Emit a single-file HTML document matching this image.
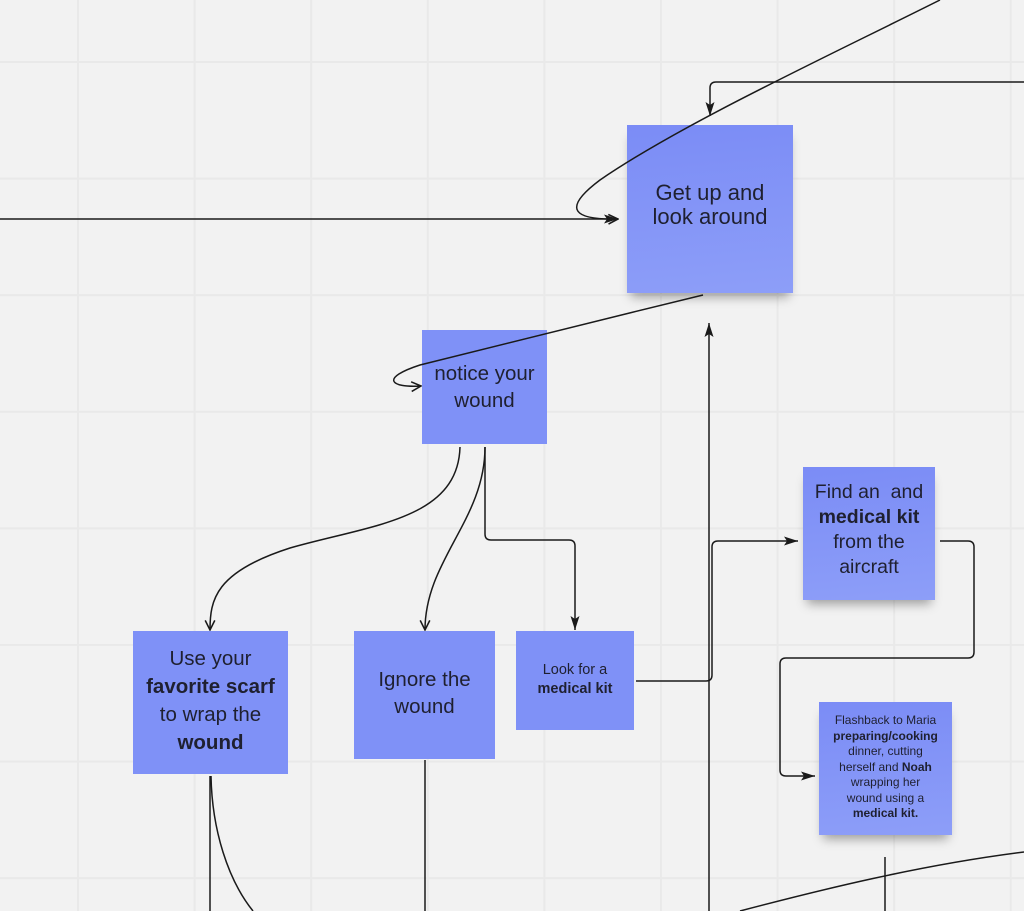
<!DOCTYPE html>
<html><head><meta charset="utf-8"><style>
html,body{margin:0;padding:0}
body{width:1024px;height:911px;overflow:hidden;position:relative;background-color:#f2f2f2;
background-image:linear-gradient(to right,#e9e9e9 0,#e9e9e9 2px,transparent 2px),linear-gradient(to bottom,#e9e9e9 0,#e9e9e9 2px,transparent 2px);
background-size:116.6px 116.6px;background-position:77px 61px;font-family:"Liberation Sans",sans-serif;color:#1f2030}
.n{position:absolute;display:flex;align-items:center;justify-content:center;text-align:center;box-sizing:border-box;background:linear-gradient(175deg,#7b8cf6,#8d9ef8);}
.sh{box-shadow:0 8px 10px -4px rgba(0,0,0,0.35)}
b{font-weight:bold}
svg{position:absolute;left:0;top:0}
</style></head><body>
<div class="n sh" style="left:627px;top:125px;width:166px;height:168px;font-size:22px;line-height:24px;padding-bottom:8px">Get up and<br>look around</div>
<div class="n" style="left:422px;top:330px;width:125px;height:114px;font-size:20.5px;line-height:27px;background:#7f91f7;padding-bottom:0">notice your<br>wound</div>
<div class="n" style="left:133px;top:631px;width:155px;height:143px;font-size:20.5px;line-height:28px;background:#7f91f7;padding-bottom:4px"><div>Use your<br><b>favorite scarf</b><br>to wrap the<br><b>wound</b></div></div>
<div class="n" style="left:354px;top:631px;width:141px;height:128px;font-size:20.5px;line-height:27px;background:#7f91f7;padding-bottom:4px">Ignore the<br>wound</div>
<div class="n" style="left:516px;top:631px;width:118px;height:99px;font-size:14.5px;line-height:19px;background:#7f91f7;padding-bottom:2px"><div>Look for a<br><b>medical kit</b></div></div>
<div class="n sh" style="left:803px;top:467px;width:132px;height:133px;font-size:19.5px;line-height:25px;padding-bottom:8px"><div>Find an&nbsp; and<br><b>medical kit</b><br>from the<br>aircraft</div></div>
<div class="n sh" style="left:819px;top:702px;width:133px;height:133px;font-size:12px;line-height:15.5px;padding-bottom:2px"><div>Flashback to Maria<br><b>preparing/cooking</b><br>dinner, cutting<br>herself and <b>Noah</b><br>wrapping her<br>wound using a<br><b>medical kit.</b></div></div>
<svg width="1024" height="911" viewBox="0 0 1024 911" fill="none" stroke="#1a1a1a" stroke-width="1.5">
<defs>
<marker id="f" viewBox="0 0 14 10" refX="14" refY="5" markerWidth="14" markerHeight="10" orient="auto" markerUnits="userSpaceOnUse"><path d="M0,0.5 L14,5 L0,9.5 L3,5 Z" fill="#1a1a1a" stroke="none"/></marker>
<marker id="o" viewBox="0 0 10 10" refX="9" refY="5" markerWidth="12" markerHeight="12" orient="auto" markerUnits="userSpaceOnUse"><path d="M1,1 L9,5 L1,9" fill="none" stroke="#1a1a1a" stroke-width="1.3"/></marker>
</defs>
<path d="M0,219 L618,219" marker-end="url(#f)"/>
<path d="M940,0 C820,60 680,125 600,180 C560,210 575,220 618,219" marker-end="url(#o)"/>
<path d="M1024,82 L716,82 Q710,82 710,88 L710,116" marker-end="url(#f)"/>
<path d="M703,295 C600,320 480,350 420,365 C380,378 390,388 421,386" marker-end="url(#o)"/>
<path d="M460,447 C458,520 370,525 290,548 C215,572 210,600 210,630" marker-end="url(#o)"/>
<path d="M485,447 C485,520 425,560 425,630" marker-end="url(#o)"/>
<path d="M485,447 L485,534 Q485,540 491,540 L569,540 Q575,540 575,546 L575,630" marker-end="url(#f)"/>
<path d="M636,681 L706,681 Q712,681 712,675 L712,547 Q712,541 718,541 L798,541" marker-end="url(#f)"/>
<path d="M709,911 L709,323" marker-end="url(#f)"/>
<path d="M940,541 L968,541 Q974,541 974,547 L974,652 Q974,658 968,658 L786,658 Q780,658 780,664 L780,770 Q780,776 786,776 L815,776" marker-end="url(#f)"/>
<path d="M885,857 L885,911"/>
<path d="M740,911 C820,890 920,865 1024,852"/>
<path d="M210,776 L210,911"/>
<path d="M211,776 C212,830 228,880 253,911"/>
<path d="M425,760 L425,911"/>
</svg>
</body></html>
